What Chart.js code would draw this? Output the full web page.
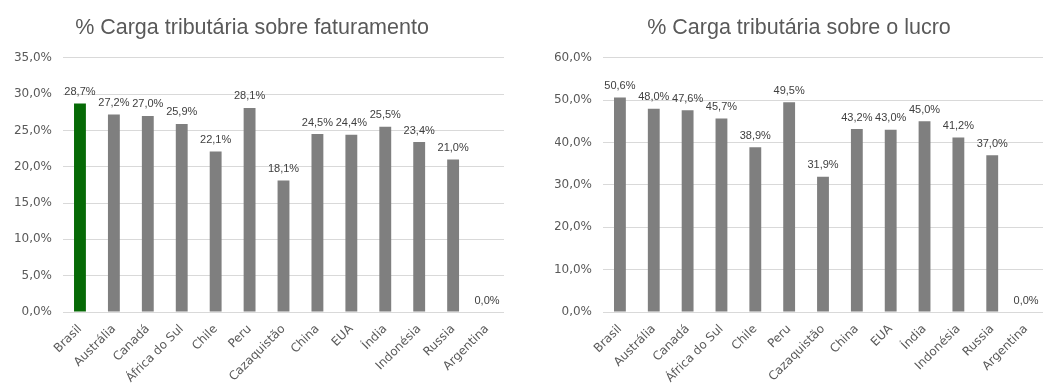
<!DOCTYPE html>
<html>
<head>
<meta charset="utf-8">
<script src="https://cdn.jsdelivr.net/npm/chart.js@4.4.1/dist/chart.umd.min.js"></script>
<style>
  html, body { margin: 0; padding: 0; background: #fff; }
  #wrap { position: relative; width: 1053px; height: 390px; overflow: hidden; }
  #left { position: absolute; left: 0; top: 0; }
  #right { position: absolute; left: 555px; top: 0; }
</style>
</head>
<body>
<div id="wrap">
  <canvas id="left" width="520" height="390"></canvas>
  <canvas id="right" width="498" height="390"></canvas>
</div>
<script>
// Data
const paises = ['Brasil', 'Austrália', 'Canadá', 'África do Sul', 'Chile', 'Peru', 'Cazaquistão', 'China', 'EUA', 'Índia', 'Indonésia', 'Russia', 'Argentina'];
const cargaFaturamento = [28.7, 27.2, 27.0, 25.9, 22.1, 28.1, 18.1, 24.5, 24.4, 25.5, 23.4, 21.0, 0.0];
const cargaLucro = [50.6, 48.0, 47.6, 45.7, 38.9, 49.5, 31.9, 43.2, 43.0, 45.0, 41.2, 37.0, 0.0];
const escalaFaturamento = { max: 35, step: 5 };
const escalaLucro = { max: 60, step: 10 };

const fmt = v => Number(v).toFixed(1).replace('.', ',') + '%';

Chart.defaults.font.family = "'Liberation Sans', Arial, sans-serif";
Chart.defaults.color = '#595959';
const tickFont = { family: "'DejaVu Sans', Verdana, sans-serif", size: 12 };

// Value labels above the bars
const barLabels = {
    id: 'barLabels',
    afterDatasetsDraw(chart) {
        const ctx = chart.ctx;
        const meta = chart.getDatasetMeta(0);
        const data = chart.data.datasets[0].data;
        ctx.save();
        ctx.font = "11px 'Liberation Sans', Arial, sans-serif";
        ctx.fillStyle = '#404040';
        ctx.textAlign = 'center';
        ctx.textBaseline = 'bottom';
        meta.data.forEach((bar, i) => {
            ctx.fillText(fmt(data[i]), bar.x, bar.y - 6);
        });
        ctx.restore();
    }
};

function makeChart(id, titulo, valores, cores, escala, yWidth, padRight) {
    return new Chart(document.getElementById(id), {
        type: 'bar',
        data: {
            labels: paises,
            datasets: [{
                data: valores,
                backgroundColor: cores,
                categoryPercentage: 1,
                barPercentage: 0.35
            }]
        },
        options: {
            responsive: false,
            animation: false,
            layout: { padding: { left: 0, right: padRight, top: 0, bottom: 0 } },
            plugins: {
                legend: { display: false },
                tooltip: { enabled: false },
                title: {
                    display: true,
                    text: titulo,
                    color: '#595959',
                    font: { size: 21.5, weight: 'normal' },
                    padding: { top: 15, bottom: 17 }
                }
            },
            scales: {
                x: {
                    grid: { display: false },
                    border: { display: false },
                    ticks: {
                        font: tickFont,
                        color: '#595959',
                        maxRotation: 45,
                        minRotation: 45,
                        autoSkip: false,
                        padding: 2
                    },
                    afterFit: s => { s.height = 78; }
                },
                y: {
                    min: 0,
                    max: escala.max,
                    grid: { color: '#d9d9d9', drawTicks: false },
                    border: { display: false },
                    ticks: {
                        stepSize: escala.step,
                        font: tickFont,
                        color: '#595959',
                        padding: 11,
                        callback: v => fmt(v)
                    },
                    afterFit: s => { s.width = yWidth; }
                }
            }
        },
        plugins: [barLabels]
    });
}

const coresFaturamento = paises.map((p, i) => i === 0 ? '#066a06' : '#7f7f7f');
const coresLucro = paises.map(() => '#7f7f7f');

makeChart('left', '% Carga tributária sobre faturamento', cargaFaturamento, coresFaturamento, escalaFaturamento, 63, 16);
makeChart('right', '% Carga tributária sobre o lucro', cargaLucro, coresLucro, escalaLucro, 48, 10);
</script>
</body>
</html>
